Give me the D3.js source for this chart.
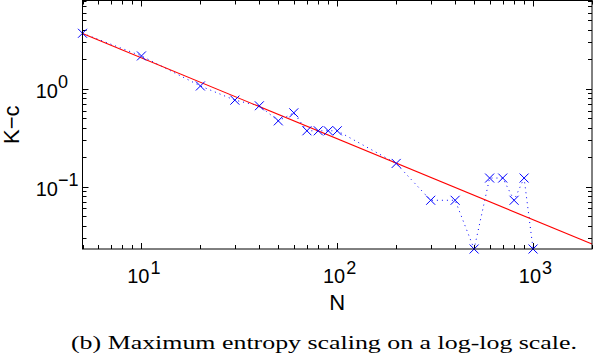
<!DOCTYPE html>
<html>
<head>
<meta charset="utf-8">
<script src="https://cdn.jsdelivr.net/npm/d3@7"></script>
<style>
  html, body { margin: 0; padding: 0; background: #fff; }
  svg { display: block; }
  .sans { font-family: "Liberation Sans", Arial, Helvetica, sans-serif; }
  .serif { font-family: "Liberation Serif", "Times New Roman", serif; }
</style>
</head>
<body>
<svg id="chart" width="594" height="356"></svg>
<script>
// ---- data ----
const sizesN = [5, 10, 20, 30, 40, 50, 60, 70, 80, 90, 100, 200, 300, 400, 500, 600, 700, 800, 900, 1000];
const kMinusC = [3.70, 2.17, 1.07, 0.767, 0.671, 0.471, 0.569, 0.373, 0.373, 0.373, 0.373, 0.173, 0.0727, 0.0727, 0.0231, 0.1227, 0.1227, 0.0727, 0.1227, 0.0231];
const fitN = [5, 2000];
const fitValues = [3.67, 0.026];
const xDomain = [5, 2000];
const yDomain = [0.0231, 8];
const xMajorTicks = [10, 100, 1000];
const xMajorExp = ["1", "2", "3"];
const yMajorTicks = [0.1, 1];
const yMajorExp = ["\u22121", "0"];
const xLabel = "N";
const yLabel = "K\u2212c";
const caption = "(b) Maximum entropy scaling on a log-log scale.";

// ---- layout ----
const L = 82.5, R = 592, T = 0.5, B = 249;
const svg = d3.select("#chart");
const x = d3.scaleLog().domain(xDomain).range([L, R]);
const y = d3.scaleLog().domain(yDomain).range([B, T]);

function minorTicks(domain) {
  const out = [];
  const lo = Math.floor(Math.log10(domain[0])), hi = Math.ceil(Math.log10(domain[1]));
  for (let e = lo; e <= hi; e++) {
    for (let m = 2; m <= 9; m++) {
      const v = m * Math.pow(10, e);
      if (v >= domain[0] * 0.999 && v <= domain[1] * 1.001) out.push(v);
    }
  }
  return out;
}

const axes = svg.append("g").attr("stroke", "#000").attr("stroke-width", 1).attr("fill", "none");
const MAJ = 6, MIN = 4;
xMajorTicks.forEach(v => {
  const px = Math.round(x(v)) + 0.5;
  axes.append("line").attr("x1", px).attr("x2", px).attr("y1", B).attr("y2", B - MAJ);
  axes.append("line").attr("x1", px).attr("x2", px).attr("y1", T).attr("y2", T + MAJ);
});
minorTicks(xDomain).forEach(v => {
  const px = Math.round(x(v)) + 0.5;
  axes.append("line").attr("x1", px).attr("x2", px).attr("y1", B).attr("y2", B - MIN);
  axes.append("line").attr("x1", px).attr("x2", px).attr("y1", T).attr("y2", T + MIN);
});
yMajorTicks.forEach(v => {
  const py = Math.round(y(v)) + 0.5;
  axes.append("line").attr("x1", L).attr("x2", L + MAJ).attr("y1", py).attr("y2", py);
  axes.append("line").attr("x1", R).attr("x2", R - MAJ).attr("y1", py).attr("y2", py);
});
minorTicks(yDomain).forEach(v => {
  const py = Math.round(y(v)) + 0.5;
  axes.append("line").attr("x1", L).attr("x2", L + MIN).attr("y1", py).attr("y2", py);
  axes.append("line").attr("x1", R).attr("x2", R - MIN).attr("y1", py).attr("y2", py);
});

// data: dotted connecting line
const line = d3.line().x(d => x(d[0])).y(d => y(d[1]));
const pts = sizesN.map((n, i) => [n, kMinusC[i]]);
svg.append("path").attr("d", line(pts)).attr("fill", "none")
  .attr("stroke", "#0000ff").attr("stroke-width", 1).attr("stroke-dasharray", "1,4");

// fit line
const fitPts = fitN.map((n, i) => [n, fitValues[i]]);
svg.append("path").attr("d", line(fitPts)).attr("fill", "none")
  .attr("stroke", "#ff0000").attr("stroke-width", 1.1);

// markers
const S = 4.5;
const mk = svg.append("g").attr("stroke", "#0000ff").attr("stroke-width", 1);
pts.forEach(d => {
  const cx = x(d[0]), cy = y(d[1]);
  mk.append("line").attr("x1", cx - S).attr("y1", cy - S).attr("x2", cx + S).attr("y2", cy + S);
  mk.append("line").attr("x1", cx - S).attr("y1", cy + S).attr("x2", cx + S).attr("y2", cy - S);
});

// axes box
svg.append("rect").attr("x", L).attr("y", T).attr("width", R - L).attr("height", B - T)
  .attr("fill", "none").attr("stroke", "#000").attr("stroke-width", 1);

// tick labels
const tl = svg.append("g").attr("class", "sans").attr("fill", "#000");
xMajorTicks.forEach((v, i) => {
  const px = x(v);
  tl.append("text").attr("x", px + 8).attr("y", 283).attr("text-anchor", "end")
    .attr("font-size", 20).text("10");
  tl.append("text").attr("x", px + 9).attr("y", 274).attr("text-anchor", "start")
    .attr("font-size", 18).text(xMajorExp[i]);
});
yMajorTicks.forEach((v, i) => {
  const py = y(v);
  tl.append("text").attr("x", 58).attr("y", py + 8.8).attr("text-anchor", "end")
    .attr("font-size", 20).text("10");
  tl.append("text").attr("x", 58).attr("y", py - 1).attr("text-anchor", "start")
    .attr("font-size", 18).text(yMajorExp[i]);
});

// axis labels
svg.append("text").attr("class", "sans").attr("x", (L + R) / 2).attr("y", 309.5)
  .attr("text-anchor", "middle").attr("font-size", 22).text(xLabel);
svg.append("text").attr("class", "sans").attr("transform", `translate(19,${(T + B) / 2}) rotate(-90)`)
  .attr("text-anchor", "middle").attr("font-size", 22).text(yLabel);

// caption
svg.append("text").attr("class", "serif").attr("x", 71).attr("y", 349)
  .attr("font-size", 18)
  .attr("textLength", 506).attr("lengthAdjust", "spacingAndGlyphs").text(caption);
</script>
</body>
</html>
